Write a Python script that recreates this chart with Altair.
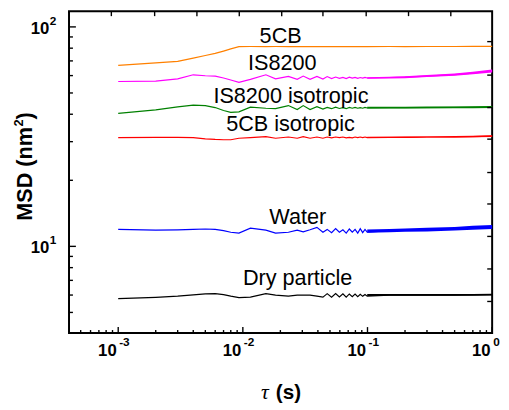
import altair as alt
import pandas as pd

# ---- data ----
tau = [0.001, 0.002, 0.003, 0.004, 0.005, 0.006, 0.007, 0.008, 0.0093,
       0.0115, 0.0153, 0.0183, 0.0232, 0.0273, 0.0305, 0.0346, 0.0393, 0.0439,
       0.0475, 0.0515, 0.0555, 0.0595, 0.0635, 0.0675, 0.0715, 0.0755, 0.0795,
       0.0835, 0.0875, 0.0915, 0.0955, 0.0995,
       0.15, 0.2, 0.3, 0.5, 0.7, 1.0]

msd_5cb = [66.8, 68.6, 69.7, 72.1, 74.1, 75.7, 77.6, 79.4, 81.3,
           81.4, 81.3, 81.4, 81.3, 81.3, 81.4, 81.3, 81.3, 81.4,
           81.3, 81.3, 81.4, 81.3, 81.3, 81.4, 81.3, 81.3, 81.4,
           81.3, 81.3, 81.4, 81.3, 81.3,
           81.4, 81.3, 81.4, 81.4, 81.5, 81.5]
msd_is8200 = [56.4, 56.6, 58.0, 60.5, 59.9, 59.7, 58.5, 57.3, 55.9,
              57.7, 60.5, 58.0, 59.5, 57.7, 59.7, 57.7, 59.5, 57.9,
              59.4, 58.2, 59.1, 58.3, 58.9, 58.2, 59.0, 58.4, 58.9,
              58.3, 58.8, 58.4, 58.9, 58.5,
              58.8, 59.0, 59.7, 60.6, 61.6, 63.0]
msd_is8200_iso = [40.4, 41.9, 43.2, 44.0, 43.8, 42.9, 41.6, 40.8, 41.0,
                  43.1, 42.6, 42.4, 43.8, 42.0, 43.8, 42.0, 43.3, 42.2,
                  43.0, 42.4, 43.1, 42.5, 42.9, 42.4, 43.0, 42.6, 43.0,
                  42.6, 42.9, 42.6, 43.0, 42.7,
                  42.9, 42.9, 42.9, 43.0, 43.0, 43.1]
msd_5cb_iso = [31.3, 31.4, 31.4, 31.3, 30.9, 30.7, 30.6, 30.6, 31.1,
               31.3, 31.6, 31.1, 31.5, 31.1, 31.6, 31.1, 31.5, 31.1,
               31.5, 31.2, 31.5, 31.3, 31.5, 31.2, 31.4, 31.2, 31.5,
               31.3, 31.5, 31.3, 31.5, 31.3,
               31.4, 31.4, 31.5, 31.5, 31.6, 31.8]
msd_water = [11.96, 11.85, 11.9, 11.95, 12.0, 11.95, 11.8, 11.6, 11.5,
             12.1, 11.85, 11.5, 11.6, 11.85, 11.65, 11.9, 12.2, 11.6,
             11.95, 11.55, 12.05, 11.6, 11.9, 11.5, 12.0, 11.6, 11.95,
             11.5, 12.05, 11.55, 11.95, 11.6,
             11.8, 11.85, 11.9, 12.0, 12.15, 12.25]
msd_dry = [5.78, 5.86, 5.93, 6.01, 6.07, 6.09, 6.03, 5.93, 5.84,
           5.87, 6.09, 6.0, 5.93, 5.99, 6.0, 6.0, 5.93, 5.87,
           6.09, 5.87, 6.09, 5.88, 6.08, 5.87, 6.07, 5.9, 6.06,
           5.9, 6.05, 5.92, 6.03, 5.93,
           6.0, 6.0, 6.0, 6.0, 6.01, 6.02]

# noise envelope at long lag times (lower / upper edge of the noisy band)
tau_band = [0.0995, 0.15, 0.2, 0.3, 0.5, 0.7, 1.0]
band_lo = {
    "IS8200": [58.0, 58.2, 58.4, 59.1, 59.9, 60.8, 62.0],
    "IS8200 isotropic": [42.5, 42.5, 42.5, 42.6, 42.6, 42.6, 42.7],
    "5CB isotropic": [31.2, 31.2, 31.2, 31.3, 31.3, 31.4, 31.5],
    "Water": [11.55, 11.6, 11.65, 11.7, 11.8, 11.9, 12.0],
    "Dry particle": [5.94, 5.95, 5.95, 5.95, 5.96, 5.96, 5.97],
}
band_hi = {
    "IS8200": [59.0, 59.3, 59.6, 60.4, 61.3, 62.4, 64.0],
    "IS8200 isotropic": [43.3, 43.3, 43.3, 43.4, 43.4, 43.5, 43.6],
    "5CB isotropic": [31.6, 31.6, 31.7, 31.7, 31.8, 31.9, 32.1],
    "Water": [11.95, 12.0, 12.05, 12.15, 12.25, 12.4, 12.5],
    "Dry particle": [6.06, 6.06, 6.06, 6.06, 6.07, 6.07, 6.08],
}

series_names = ["5CB", "IS8200", "IS8200 isotropic", "5CB isotropic", "Water", "Dry particle"]
series_values = [msd_5cb, msd_is8200, msd_is8200_iso, msd_5cb_iso, msd_water, msd_dry]
series_colors = ["#FF8000", "#FF00FF", "#008000", "#FF0000", "#0000FF", "#000000"]

# in-plot labels (anchor: centre x, baseline y in data units)
label_text = ["5CB", "IS8200", "IS8200 isotropic", "5CB isotropic", "Water", "Dry particle"]
label_tau = [0.0201, 0.0207, 0.0243, 0.0241, 0.0276, 0.0275]
label_msd = [84.1, 63.9, 44.8, 33.7, 12.68, 6.64]

# axes
x_domain = [4.03e-4, 1.0]
y_domain = [4.03, 117.9]
x_major = [0.001, 0.01, 0.1, 1.0]
x_major_base = ["10", "10", "10", "10"]
x_major_exp = ["-3", "-2", "-1", "0"]
x_minor = [5e-4, 6e-4, 7e-4, 8e-4, 9e-4,
           2e-3, 3e-3, 4e-3, 5e-3, 6e-3, 7e-3, 8e-3, 9e-3,
           2e-2, 3e-2, 4e-2, 5e-2, 6e-2, 7e-2, 8e-2, 9e-2,
           0.2, 0.3, 0.4, 0.5, 0.6, 0.7, 0.8, 0.9]
y_major = [10, 100]
y_major_base = ["10", "10"]
y_major_exp = ["1", "2"]
y_minor = [5, 6, 7, 8, 9, 20, 30, 40, 50, 60, 70, 80, 90]
top_ticks = [8.81e-4, 1.96e-3, 4.28e-3, 9.36e-3, 0.0205, 0.0439, 0.0976, 0.2134, 0.466]
right_ticks = [85.7, 60.3, 42.9, 30.8, 21.7, 15.6, 11.1, 7.89, 5.61]

y_title_parts = ["MSD (nm", "2", ")"]
x_title_parts = ["τ", "(s)"]

# ---- build tables ----
rows = []
for name, vals in zip(series_names, series_values):
    assert len(vals) == len(tau), name
    for t, v in zip(tau, vals):
        rows.append({"series": name, "t": t, "msd": v})
df_lines = pd.DataFrame(rows)

brows = []
for name in band_lo:
    for t, lo, hi in zip(tau_band, band_lo[name], band_hi[name]):
        brows.append({"series": name, "t": t, "lo": lo, "hi": hi})
df_band = pd.DataFrame(brows)

df_lab = pd.DataFrame({"label": label_text, "t": label_tau, "msd": label_msd})
df_xlab = pd.DataFrame({"t": x_major, "base": x_major_base, "exp": x_major_exp})
df_ylab = pd.DataFrame({"msd": y_major, "base": y_major_base, "exp": y_major_exp})

W, H = 430, 327
FONT = "Liberation Sans"

xscale = alt.Scale(type="log", domain=x_domain, nice=False, zero=False)
yscale = alt.Scale(type="log", domain=y_domain, nice=False, zero=False)
cscale = alt.Scale(domain=series_names, range=series_colors)

X = lambda f: alt.X(f, scale=xscale, axis=None)
Y = lambda f: alt.Y(f, scale=yscale, axis=None)

lines = alt.Chart(df_lines).mark_line(strokeWidth=1.2).encode(
    x=X("t:Q"), y=Y("msd:Q"),
    color=alt.Color("series:N", scale=cscale, legend=None),
    detail="series:N",
)

bands = alt.Chart(df_band).mark_area(opacity=1).encode(
    x=X("t:Q"), y=Y("lo:Q"), y2="hi:Q",
    color=alt.Color("series:N", scale=cscale, legend=None),
    detail="series:N",
)

labels = alt.Chart(df_lab).mark_text(font=FONT, fontSize=22, align="center",
                                     baseline="alphabetic", color="black").encode(
    x=X("t:Q"), y=Y("msd:Q"), text="label:N",
)

# tick labels 10^n drawn as base + raised exponent
xlab_base = alt.Chart(df_xlab).mark_text(font=FONT, fontWeight="bold", fontSize=17,
                                         align="right", baseline="alphabetic", dx=-1.5,
                                         color="black").encode(
    x=X("t:Q"), y=alt.value(H + 23), text="base:N")
xlab_exp = alt.Chart(df_xlab).mark_text(font=FONT, fontWeight="bold", fontSize=12,
                                        align="left", baseline="alphabetic", dx=1.0,
                                        color="black").encode(
    x=X("t:Q"), y=alt.value(H + 13.5), text="exp:N")
ylab_base = alt.Chart(df_ylab).mark_text(font=FONT, fontWeight="bold", fontSize=17,
                                         align="right", baseline="alphabetic", dy=7,
                                         color="black").encode(
    y=Y("msd:Q"), x=alt.value(-20), text="base:N")
ylab_exp = alt.Chart(df_ylab).mark_text(font=FONT, fontWeight="bold", fontSize=12,
                                        align="left", baseline="alphabetic", dy=-2,
                                        color="black").encode(
    y=Y("msd:Q"), x=alt.value(-19.5), text="exp:N")


def xticks(vals, length, top=False):
    d = pd.DataFrame({"t": vals})
    if top:
        yy, yy2 = alt.value(0), alt.value(length)
    else:
        yy, yy2 = alt.value(H), alt.value(H - length)
    return alt.Chart(d).mark_rule(color="black", strokeWidth=1.4).encode(
        x=X("t:Q"), y=yy, y2=yy2)


def yticks(vals, length, right=False):
    d = pd.DataFrame({"msd": vals})
    if right:
        xx, xx2 = alt.value(W - length), alt.value(W)
    else:
        xx, xx2 = alt.value(0), alt.value(length)
    return alt.Chart(d).mark_rule(color="black", strokeWidth=1.4).encode(
        y=Y("msd:Q"), x=xx, x2=xx2)


one = pd.DataFrame({"a": [0]})


def txt(text, x, y, size, weight="bold", style="normal", font=FONT, angle=0, align="left"):
    return alt.Chart(one).mark_text(text=text, font=font, fontWeight=weight, fontStyle=style,
                                    fontSize=size, angle=angle, align=align,
                                    baseline="alphabetic", color="black").encode(
        x=alt.value(x), y=alt.value(y))


# axis titles
tau_title = txt(x_title_parts[0], 199, 394, 22, weight="normal", style="italic",
                font="Liberation Serif", align="center")
s_title = txt(x_title_parts[1], 223, 394, 21, align="center")
y_t1 = txt(y_title_parts[0], -37.5, 213, 22, angle=270)
y_t2 = txt(y_title_parts[1], -46.5, 117.2, 13, angle=270)
y_t3 = txt(y_title_parts[2], -37.5, 110, 22, angle=270)

chart = alt.layer(
    lines, bands, labels,
    xticks(x_major, 6), xticks(x_minor, 3), xticks(top_ticks, 5, top=True),
    yticks(y_major, 7), yticks(y_minor, 4), yticks(right_ticks, 5, right=True),
    xlab_base, xlab_exp, ylab_base, ylab_exp,
    tau_title, s_title, y_t1, y_t2, y_t3,
).properties(
    width=W, height=H,
    background="white",
    autosize=alt.AutoSizeParams(type="none"),
    padding={"left": 62, "top": 0, "right": 9, "bottom": 75},
).configure_view(stroke="black", strokeWidth=2)

chart.save("out.html", embed_options={"renderer": "svg", "actions": False})
